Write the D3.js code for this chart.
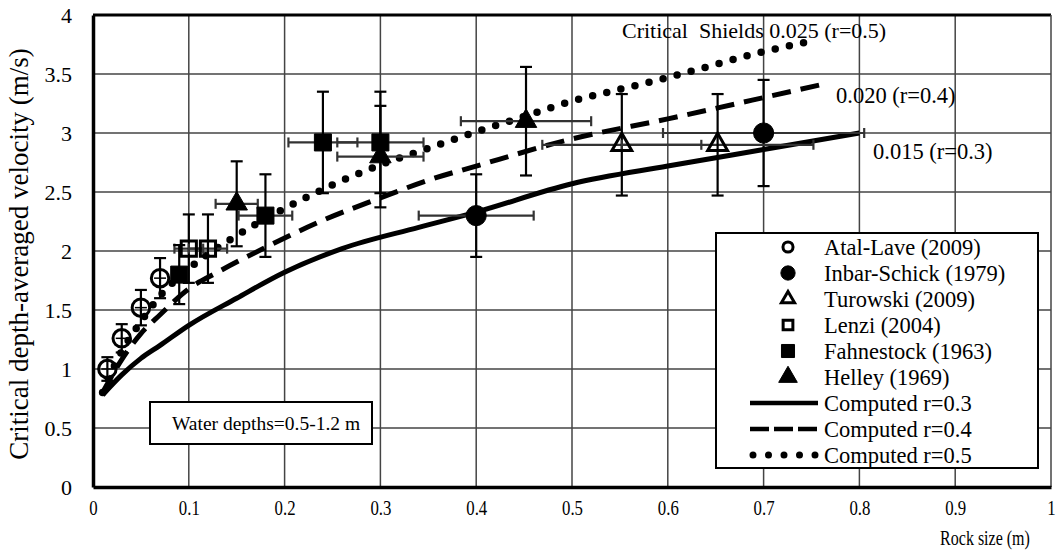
<!DOCTYPE html>
<head>
  <meta charset="utf-8">
  <script src="https://d3js.org/d3.v7.min.js"></script>
  <style>
    body { margin: 0; background: white; }
    svg text { font-family: "Liberation Serif", "Times New Roman", serif; fill: black; }
    .narrow { transform-box: fill-box; transform-origin: center; transform: scaleX(0.8); }
  </style>
</head>

<body>
  <svg width="1059" height="550" font-family="Liberation Serif"></svg>

  <script>
    // observed data: [rock size, velocity, x error, y error]
    const atalLave = [[0.015, 1.0, 0, 0.1], [0.03, 1.26, 0, 0.12], [0.05, 1.52, 0, 0.15], [0.07, 1.77, 0, 0.17]];
    const inbarSchick = [[0.4, 2.3, 0.06, 0.35], [0.7, 3.0, 0.105, 0.45]];
    const turowski = [[0.552, 2.9, 0.083, 0.43], [0.652, 2.9, 0.1, 0.43]];
    const lenzi = [[0.1, 2.02, 0.015, 0.29], [0.12, 2.02, 0.02, 0.29]];
    const fahnestock = [[0.09, 1.8, 0, 0.25], [0.18, 2.3, 0.028, 0.35], [0.24, 2.92, 0.036, 0.43], [0.3, 2.92, 0.045, 0.43]];
    const helley = [[0.15, 2.4, 0.022, 0.36], [0.3, 2.8, 0.045, 0.43], [0.452, 3.1, 0.068, 0.46]];

    // computed curves: [rock size, velocity]
    const computed03 = [[0.01, 0.78], [0.03, 0.95], [0.05, 1.09], [0.07, 1.2], [0.1, 1.37], [0.15, 1.6], [0.2, 1.82],
      [0.26, 2.02], [0.34, 2.2], [0.4, 2.33], [0.5, 2.57], [0.6, 2.72], [0.7, 2.86], [0.8, 3.0]];
    const computed04 = [[0.01, 0.8], [0.03, 1.08], [0.05, 1.3], [0.07, 1.46], [0.1, 1.68], [0.13, 1.82], [0.18, 2.03],
      [0.24, 2.26], [0.3, 2.45], [0.35, 2.6], [0.4, 2.72], [0.5, 2.95], [0.6, 3.12], [0.7, 3.3], [0.76, 3.41]];
    const computed05 = [[0.01, 0.8], [0.03, 1.15], [0.05, 1.4], [0.07, 1.62], [0.1, 1.85], [0.14, 2.08], [0.2, 2.36],
      [0.25, 2.56], [0.3, 2.73], [0.35, 2.87], [0.4, 3.01], [0.45, 3.14], [0.5, 3.27], [0.55, 3.37], [0.6, 3.47],
      [0.7, 3.69], [0.75, 3.78]];

    const xTicks = [0, 0.1, 0.2, 0.3, 0.4, 0.5, 0.6, 0.7, 0.8, 0.9, 1];
    const yTicks = [0, 0.5, 1, 1.5, 2, 2.5, 3, 3.5, 4];
    const legendLabels = ['Atal-Lave (2009)', 'Inbar-Schick (1979)', 'Turowski (2009)', 'Lenzi (2004)',
      'Fahnestock (1963)', 'Helley (1969)', 'Computed r=0.3', 'Computed r=0.4', 'Computed r=0.5'];
    const curveLabels = ['0.015 (r=0.3)', '0.020 (r=0.4)', 'Critical  Shields 0.025 (r=0.5)'];

    const svg = d3.select('svg');
    const x = d3.scaleLinear().domain([0, 1]).range([93, 1051]);
    const y = d3.scaleLinear().domain([0, 4]).range([487, 15]);

    // grid
    const grid = svg.append('g');
    grid.selectAll('.vg').data(xTicks.slice(1, -1)).enter().append('line')
      .attr('x1', d => x(d)).attr('x2', d => x(d)).attr('y1', y(0)).attr('y2', y(4))
      .attr('stroke', '#444').attr('stroke-width', 1.5);
    grid.selectAll('.hg').data(yTicks.slice(1, -1)).enter().append('line')
      .attr('x1', x(0)).attr('x2', x(1)).attr('y1', d => y(d)).attr('y2', d => y(d))
      .attr('stroke', '#444').attr('stroke-width', 1.5);
    // plot frame
    svg.append('line').attr('x1', x(0)).attr('x2', x(1)).attr('y1', y(4)).attr('y2', y(4))
      .attr('stroke', 'black').attr('stroke-width', 3);
    svg.append('line').attr('x1', x(1)).attr('x2', x(1)).attr('y1', y(4)).attr('y2', y(0))
      .attr('stroke', '#444').attr('stroke-width', 1.5);

    // axes
    const xAxis = svg.append('g').attr('transform', `translate(0,${y(0)})`)
      .call(d3.axisBottom(x).tickValues(xTicks).tickSize(0).tickPadding(13).tickFormat(d3.format('')));
    const yAxis = svg.append('g').attr('transform', `translate(${x(0)},0)`)
      .call(d3.axisLeft(y).tickValues(yTicks).tickSize(0).tickPadding(21).tickFormat(d3.format('')));
    [xAxis, yAxis].forEach(a => {
      a.attr('font-family', 'Liberation Serif').attr('font-size', null);
      a.select('.domain').attr('stroke', 'black').attr('stroke-width', 3.5);
    });
    yAxis.selectAll('text').style('font-size', '22px');
    xAxis.selectAll('text').style('font-size', '21px').attr('class', 'narrow');

    svg.append('text').attr('class', 'narrow').attr('x', 985).attr('y', 545).attr('text-anchor', 'middle')
      .style('font-size', '20px').text('Rock size (m)');
    svg.append('text').attr('transform', 'translate(28,254) rotate(-90)').attr('text-anchor', 'middle')
      .style('font-size', '27px').text('Critical depth-averaged velocity (m/s)');

    // curves
    const line = d3.line().x(d => x(d[0])).y(d => y(d[1])).curve(d3.curveMonotoneX);
    const curveStyles = [
      { data: computed03, dash: null, width: 5, cap: 'butt' },
      { data: computed04, dash: '19 10', width: 5, cap: 'butt' },
      { data: computed05, dash: '0 14.5', width: 7.5, cap: 'round' }
    ];
    curveStyles.forEach(c => {
      svg.append('path').datum(c.data).attr('d', line).attr('fill', 'none')
        .attr('stroke', 'black').attr('stroke-width', c.width)
        .attr('stroke-dasharray', c.dash).attr('stroke-linecap', c.cap);
    });

    // error bars
    const allSeries = [
      { data: atalLave, type: d3.symbolCircle, fill: 'white', size: 240 },
      { data: inbarSchick, type: d3.symbolCircle, fill: 'black', size: 320 },
      { data: turowski, type: d3.symbolTriangle, fill: 'white', size: 170 },
      { data: lenzi, type: d3.symbolSquare, fill: 'white', size: 230 },
      { data: fahnestock, type: d3.symbolSquare, fill: 'black', size: 290 },
      { data: helley, type: d3.symbolTriangle, fill: 'black', size: 200 }
    ];
    const eb = svg.append('g');
    allSeries.forEach(s => {
      s.data.forEach(d => {
        const [px, py, ex, ey] = d;
        if (ex > 0) {
          eb.append('line').attr('x1', x(px - ex)).attr('x2', x(px + ex)).attr('y1', y(py)).attr('y2', y(py))
            .attr('stroke', '#333').attr('stroke-width', 2.2);
          [px - ex, px + ex].forEach(v => eb.append('line').attr('x1', x(v)).attr('x2', x(v))
            .attr('y1', y(py) - 5).attr('y2', y(py) + 5).attr('stroke', '#333').attr('stroke-width', 2.2));
        }
        if (ey > 0) {
          eb.append('line').attr('x1', x(px)).attr('x2', x(px)).attr('y1', y(py - ey)).attr('y2', y(py + ey))
            .attr('stroke', 'black').attr('stroke-width', 2.2);
          [py - ey, py + ey].forEach(v => eb.append('line').attr('x1', x(px) - 6).attr('x2', x(px) + 6)
            .attr('y1', y(v)).attr('y2', y(v)).attr('stroke', 'black').attr('stroke-width', 2.2));
        }
      });
    });

    // markers
    allSeries.forEach(s => {
      svg.append('g').selectAll('path').data(s.data).enter().append('path')
        .attr('d', d3.symbol().type(s.type).size(s.size))
        .attr('transform', d => `translate(${x(d[0])},${y(d[1])})`)
        .attr('fill', s.fill === 'white' ? 'none' : 'black')
        .attr('stroke', 'black').attr('stroke-width', s.fill === 'white' ? 3 : 1);
    });
    // small cross through the open circles
    svg.append('g').selectAll('line').data(atalLave).enter().append('line')
      .attr('x1', d => x(d[0]) - 6).attr('x2', d => x(d[0]) + 6)
      .attr('y1', d => y(d[1])).attr('y2', d => y(d[1])).attr('stroke', 'black').attr('stroke-width', 1.5);

    // curve labels
    svg.append('text').attr('x', 873).attr('y', 159).style('font-size', '22.5px').text(curveLabels[0]);
    svg.append('text').attr('x', 836).attr('y', 103).style('font-size', '22.5px').text(curveLabels[1]);
    svg.append('text').attr('x', 622).attr('y', 38).style('font-size', '22px')
      .style('white-space', 'pre').text(curveLabels[2]);

    // water depth box
    svg.append('rect').attr('x', 150).attr('y', 402).attr('width', 222).attr('height', 42)
      .attr('fill', 'white').attr('stroke', 'black').attr('stroke-width', 2);
    svg.append('text').attr('x', 172).attr('y', 430).style('font-size', '19.5px').text('Water depths=0.5-1.2 m');

    // legend
    const lg = svg.append('g');
    lg.append('rect').attr('x', 716).attr('y', 233).attr('width', 322).attr('height', 235)
      .attr('fill', 'white').attr('stroke', 'black').attr('stroke-width', 2);
    const rowY = i => 247 + i * 26;
    const legendSymbols = [
      { type: d3.symbolCircle, fill: false, size: 80 },
      { type: d3.symbolCircle, fill: true, size: 160 },
      { type: d3.symbolTriangle, fill: false, size: 75 },
      { type: d3.symbolSquare, fill: false, size: 95 },
      { type: d3.symbolSquare, fill: true, size: 170 },
      { type: d3.symbolTriangle, fill: true, size: 150 }
    ];
    legendSymbols.forEach((s, i) => {
      lg.append('path').attr('d', d3.symbol().type(s.type).size(s.size)())
        .attr('transform', `translate(788,${rowY(i)})`)
        .attr('fill', s.fill ? 'black' : 'none').attr('stroke', 'black').attr('stroke-width', s.fill ? 1 : 3);
    });
    curveStyles.forEach((c, i) => {
      lg.append('line').attr('x1', c.cap === 'round' ? 753 : 750).attr('x2', 818)
        .attr('y1', rowY(6 + i)).attr('y2', rowY(6 + i))
        .attr('stroke', 'black').attr('stroke-width', c.width - 0.5)
        .attr('stroke-dasharray', c.dash === null ? null : (c.cap === 'round' ? '0 15.5' : '19 5'))
        .attr('stroke-linecap', c.cap);
    });
    lg.selectAll('text').data(legendLabels).enter().append('text')
      .attr('x', 824).attr('y', (d, i) => rowY(i) + 8).style('font-size', '22.5px').text(d => d);
  </script>
</body>
